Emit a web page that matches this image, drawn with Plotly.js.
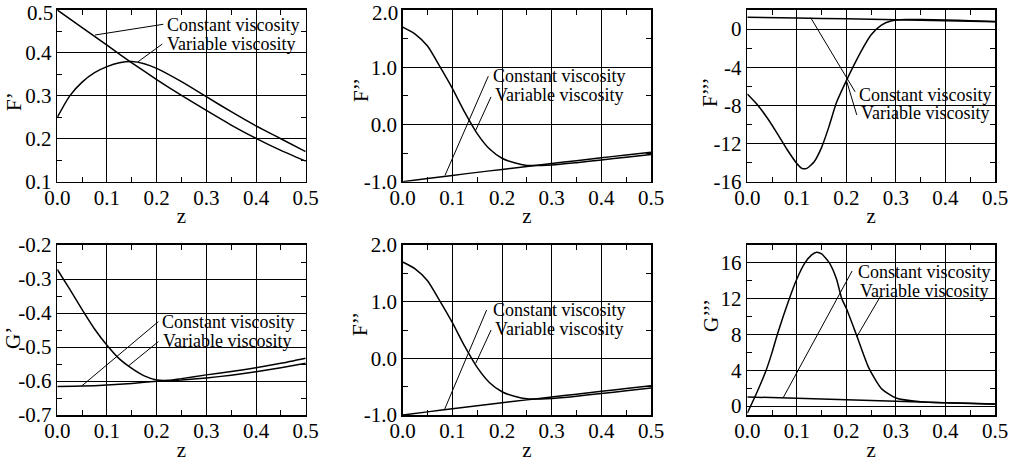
<!DOCTYPE html>
<html>
<head>
<meta charset="utf-8">
<script src="https://cdn.plot.ly/plotly-3.0.1.min.js"></script>
<style>
  html, body { margin: 0; padding: 0; background: #fff; }
  #chart { width: 1012px; height: 466px; }
</style>
</head>
<body>
<div id="chart"></div>
<script>
// ---------------- data ----------------
// Panel 1: F'
const z_Fp_const = [0, 0.05, 0.1, 0.15, 0.2, 0.25, 0.3, 0.35, 0.4, 0.45, 0.5];
const Fp_const   = [0.500, 0.459, 0.418, 0.377, 0.338, 0.301, 0.266, 0.232, 0.201, 0.173, 0.148];
const z_Fp_var   = [0, 0.025, 0.05, 0.075, 0.1, 0.125, 0.15, 0.175, 0.2, 0.25, 0.3, 0.35, 0.4, 0.45, 0.5];
const Fp_var     = [0.250, 0.300, 0.332, 0.354, 0.368, 0.377, 0.380, 0.375, 0.364, 0.333, 0.298, 0.263, 0.230, 0.200, 0.170];

// Panel 2 and panel 5: F''
const z_Fpp_const = [0, 0.05, 0.1, 0.15, 0.2, 0.25, 0.3, 0.35, 0.4, 0.45, 0.5];
const Fpp_const   = [-1.000, -0.945, -0.890, -0.837, -0.785, -0.733, -0.682, -0.632, -0.582, -0.533, -0.485];
const z_Fpp_var   = [0, 0.025, 0.05, 0.075, 0.1, 0.125, 0.15, 0.175, 0.2, 0.225, 0.25, 0.3, 0.35, 0.4, 0.45, 0.5];
const Fpp_var     = [1.70, 1.58, 1.37, 1.01, 0.63, 0.21, -0.16, -0.43, -0.59, -0.67, -0.715, -0.708, -0.668, -0.620, -0.573, -0.525];

// Panel 3: F'''
const z_Fppp_const = [0, 0.1, 0.2, 0.3, 0.4, 0.5];
const Fppp_const   = [1.25, 1.17, 1.07, 0.97, 0.87, 0.78];
const z_Fppp_var   = [0, 0.02, 0.04, 0.06, 0.08, 0.1, 0.11, 0.12, 0.135, 0.15, 0.165, 0.18, 0.2, 0.215, 0.23, 0.25, 0.27, 0.29, 0.32, 0.35, 0.4, 0.45, 0.5];
const Fppp_var     = [-6.8, -7.9, -9.3, -10.9, -12.6, -14.1, -14.6, -14.6, -13.9, -12.4, -10.2, -7.7, -5.4, -3.8, -2.3, -0.6, 0.4, 0.85, 1.0, 1.0, 0.95, 0.88, 0.8];

// Panel 4: G'
const z_Gp_const = [0, 0.05, 0.1, 0.15, 0.2, 0.25, 0.3, 0.35, 0.4, 0.45, 0.5];
const Gp_const   = [-0.616, -0.615, -0.612, -0.607, -0.601, -0.597, -0.591, -0.583, -0.573, -0.561, -0.548];
const z_Gp_var   = [0, 0.025, 0.05, 0.075, 0.1, 0.125, 0.15, 0.175, 0.2, 0.225, 0.25, 0.3, 0.35, 0.4, 0.45, 0.5];
const Gp_var     = [-0.272, -0.330, -0.390, -0.447, -0.495, -0.535, -0.563, -0.585, -0.597, -0.598, -0.593, -0.582, -0.572, -0.561, -0.548, -0.533];

// Panel 6: G'''
const z_Gppp_const = [0, 0.1, 0.2, 0.3, 0.4, 0.5];
const Gppp_const   = [1.02, 0.86, 0.70, 0.54, 0.37, 0.20];
const z_Gppp_var   = [0, 0.02, 0.038, 0.05, 0.0606, 0.0848, 0.1, 0.1163, 0.13, 0.14, 0.15, 0.1657, 0.18, 0.1907, 0.2, 0.22, 0.245, 0.27, 0.3, 0.35, 0.4, 0.45, 0.5];
const Gppp_var     = [-0.8, 1.6, 4.0, 6.0, 8.0, 12.0, 14.2, 16.0, 16.9, 17.2, 17.0, 16.0, 14.2, 12.0, 10.9, 8.0, 4.3, 2.0, 0.9, 0.48, 0.37, 0.3, 0.22];

// tick labels
const xTickVals = [0, 0.1, 0.2, 0.3, 0.4, 0.5];
const xTickText = ['0.0', '0.1', '0.2', '0.3', '0.4', '0.5'];
const FpTickVals = [0.1, 0.2, 0.3, 0.4, 0.5];
const FpTickText = ['0.1', '0.2', '0.3', '0.4', '0.5'];
const FppTickVals = [-1, 0, 1, 2];
const FppTickText = ['-1.0', '0.0', '1.0', '2.0'];
const FpppTickVals = [-16, -12, -8, -4, 0];
const FpppTickText = ['-16', '-12', '-8', '-4', '0'];
const GpTickVals = [-0.7, -0.6, -0.5, -0.4, -0.3, -0.2];
const GpTickText = ['-0.7', '-0.6', '-0.5', '-0.4', '-0.3', '-0.2'];
const GpppTickVals = [0, 4, 8, 12, 16];
const GpppTickText = ['0', '4', '8', '12', '16'];

const labelConst = 'Constant viscosity';
const labelVar = 'Variable viscosity';
const yTitles = ['F’', 'F’’', 'F’’’', 'G’', 'F’’', 'G’’’'];

// ---------------- figure ----------------
const W = 1012, H = 466;
const FONT = 'Liberation Serif, Times New Roman, serif';
const colPx = [[57.3, 305.7], [402.7, 651], [747.3, 995]];
const rowPx = [[10, 181.7], [245, 415]];
const dx = c => [colPx[c][0] / W, colPx[c][1] / W];
const dy = r => [1 - rowPx[r][1] / H, 1 - rowPx[r][0] / H];

const lineStyle = { color: 'black', width: 1.5, shape: 'spline', smoothing: 0.6 };
function tr(x, y, k) {
  const s = k === 1 ? '' : String(k);
  return { x: x, y: y, xaxis: 'x' + s, yaxis: 'y' + s, mode: 'lines', line: lineStyle, showlegend: false, hoverinfo: 'skip' };
}

const data = [
  tr(z_Fp_const, Fp_const, 1), tr(z_Fp_var, Fp_var, 1),
  tr(z_Fpp_const, Fpp_const, 2), tr(z_Fpp_var, Fpp_var, 2),
  tr(z_Fppp_const, Fppp_const, 3), tr(z_Fppp_var, Fppp_var, 3),
  tr(z_Gp_const, Gp_const, 4), tr(z_Gp_var, Gp_var, 4),
  tr(z_Fpp_const, Fpp_const, 5), tr(z_Fpp_var, Fpp_var, 5),
  tr(z_Gppp_const, Gppp_const, 6), tr(z_Gppp_var, Gppp_var, 6)
];

const TICKSIZE = 21;
const tickFont = { family: FONT, size: TICKSIZE, color: 'black' };
function xax(c, r, k) {
  const s = k === 1 ? '' : String(k);
  return {
    domain: dx(c), anchor: 'y' + s, range: [0, 0.5],
    tickvals: xTickVals, ticktext: xTickText, ticklabeloverflow: 'allow',
    ticks: 'inside', ticklen: 6, tickwidth: 1, tickcolor: 'black',
    ticklabelstandoff: -4,
    minor: { dtick: 0.05, tick0: 0, ticks: 'inside', ticklen: 5, tickcolor: 'black', tickwidth: 1, showgrid: false },
    showline: true, linecolor: 'black', linewidth: 1.6, mirror: 'allticks',
    showgrid: true, gridcolor: 'black', gridwidth: 1, zeroline: false,
    tickfont: tickFont,
    title: { text: 'z', font: { family: FONT, size: 21, color: 'black' }, standoff: 0 },
    fixedrange: true
  };
}
// topLabel: the label at the very top edge is drawn as an annotation a little lower, so it stays inside the page
function yax(c, r, k, range, vals, text, minorDt, topLabel) {
  const s = k === 1 ? '' : String(k);
  const tt = topLabel ? text.map((t, i) => (i === text.length - 1 ? '' : t)) : text;
  return {
    domain: dy(r), anchor: 'x' + s, range: range,
    tickvals: vals, ticktext: tt, ticklabeloverflow: 'allow',
    ticks: 'inside', ticklen: 6, tickwidth: 1, tickcolor: 'black',
    minor: { dtick: minorDt, tick0: 0, ticks: 'inside', ticklen: 5, tickcolor: 'black', tickwidth: 1, showgrid: false },
    showline: true, linecolor: 'black', linewidth: 1.6, mirror: 'allticks',
    showgrid: true, gridcolor: 'black', gridwidth: 1, zeroline: false,
    tickfont: tickFont,
    fixedrange: true
  };
}
function topTick(c, text) {
  return { xref: 'paper', yref: 'paper', x: (colPx[c][0] - 2.5) / W, y: 1 - 12.5 / H, text: text,
           showarrow: false, xanchor: 'right', yanchor: 'middle', font: tickFont };
}

const annFont = { family: FONT, size: 18, color: 'black' };
function lbl(k, x, y, text) {
  const s = k === 1 ? '' : String(k);
  return { xref: 'x' + s, yref: 'y' + s, x: x, y: y, text: text, showarrow: false,
           xanchor: 'left', yanchor: 'middle', font: annFont };
}
function lead(k, x0, y0, x1, y1) {
  const s = k === 1 ? '' : String(k);
  return { type: 'line', xref: 'x' + s, yref: 'y' + s, x0: x0, y0: y0, x1: x1, y1: y1,
           line: { color: 'black', width: 1 } };
}
// rotated y-axis titles, placed in page pixels
function ytitle(k, px, py) {
  return { xref: 'paper', yref: 'paper', x: px / W, y: 1 - py / H, text: yTitles[k - 1],
           textangle: -90, showarrow: false, xanchor: 'center', yanchor: 'middle',
           font: { family: FONT, size: 21, color: 'black' } };
}

const layout = {
  width: W, height: H,
  margin: { l: 0, r: 0, t: 0, b: 0 },
  paper_bgcolor: 'white', plot_bgcolor: 'white',
  showlegend: false,
  xaxis:  xax(0, 0, 1), yaxis:  yax(0, 0, 1, [0.1, 0.5], FpTickVals, FpTickText, 0.05, true),
  xaxis2: xax(1, 0, 2), yaxis2: yax(1, 0, 2, [-1, 2], FppTickVals, FppTickText, 0.5, true),
  xaxis3: xax(2, 0, 3), yaxis3: yax(2, 0, 3, [-16, 2], FpppTickVals, FpppTickText, 2),
  xaxis4: xax(0, 1, 4), yaxis4: yax(0, 1, 4, [-0.7, -0.2], GpTickVals, GpTickText, 0.05),
  xaxis5: xax(1, 1, 5), yaxis5: yax(1, 1, 5, [-1, 2], FppTickVals, FppTickText, 0.5),
  xaxis6: xax(2, 1, 6), yaxis6: yax(2, 1, 6, [-1, 18], GpppTickVals, GpppTickText, 2),
  annotations: [
    topTick(0, FpTickText[FpTickText.length - 1]), topTick(1, FppTickText[FppTickText.length - 1]),
    ytitle(1, 14, 102), ytitle(2, 361, 90), ytitle(3, 710, 92),
    ytitle(4, 13, 338), ytitle(5, 360, 324), ytitle(6, 711, 316),
    lbl(1, 0.216, 0.464, labelConst), lbl(1, 0.216, 0.421, labelVar),
    lbl(2, 0.178, 0.84, labelConst), lbl(2, 0.181, 0.515, labelVar),
    lbl(3, 0.222, -6.9, labelConst), lbl(3, 0.226, -8.8, labelVar),
    lbl(4, 0.206, -0.427, labelConst), lbl(4, 0.208, -0.481, labelVar),
    lbl(5, 0.178, 0.845, labelConst), lbl(5, 0.181, 0.525, labelVar),
    lbl(6, 0.219, 14.95, labelConst), lbl(6, 0.224, 12.9, labelVar)
  ],
  shapes: [
    lead(1, 0.2133, 0.4667, 0.0759, 0.4417), lead(1, 0.2113, 0.4207, 0.1618, 0.3788),
    lead(2, 0.1724, 0.844, 0.0852, -0.890), lead(2, 0.1778, 0.482, 0.147, -0.102),
    lead(3, 0.2176, -6.58, 0.128, 1.19), lead(3, 0.221, -9.0, 0.2008, -5.5),
    lead(4, 0.2033, -0.4255, 0.0491, -0.6147), lead(4, 0.2033, -0.4843, 0.1429, -0.556),
    lead(5, 0.169, 0.853, 0.0838, -0.912), lead(5, 0.178, 0.50, 0.147, -0.088),
    lead(6, 0.2115, 15.09, 0.0721, 0.90), lead(6, 0.268, 12.19, 0.221, 7.75)
  ]
};

Plotly.newPlot('chart', data, layout, { displayModeBar: false, staticPlot: true });
</script>
</body>
</html>
